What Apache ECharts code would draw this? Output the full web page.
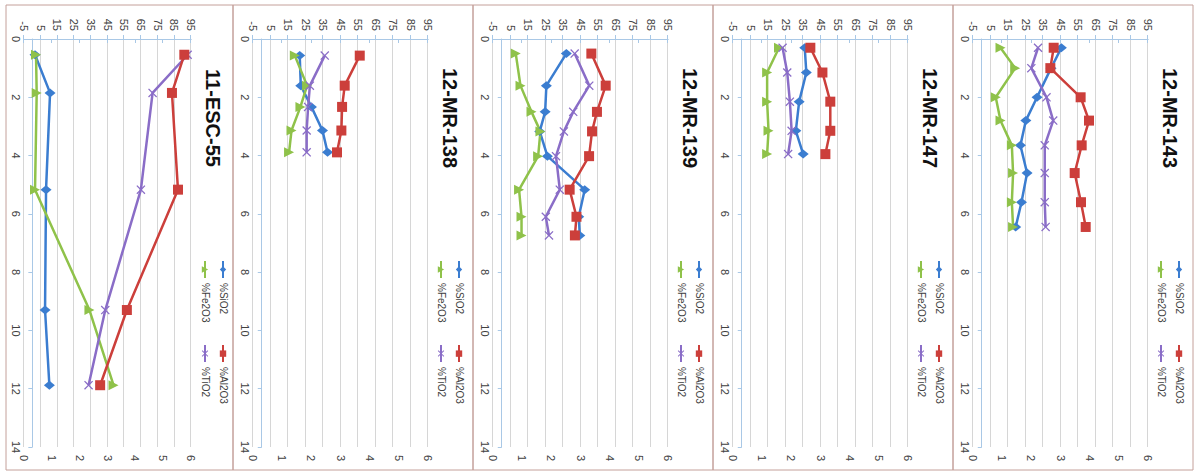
<!DOCTYPE html>
<html><head><meta charset="utf-8">
<script src="https://cdn.jsdelivr.net/npm/echarts@6/dist/echarts.min.js"></script>
<style>
html,body{margin:0;padding:0;background:#fff;overflow:hidden;width:1199px;height:473px}
#wrap{position:absolute;left:0;top:0;width:473px;height:1199px;transform-origin:0 0;transform:translateX(1199px) rotate(90deg);}
</style></head><body><div id="wrap"></div>
<script>
// ---- data ----
const seriesNames = ['%SiO2', '%Al2O3', '%Fe2O3', '%TiO2'];
const panelTitles = ['12-MR-143', '12-MR-147', '12-MR-139', '12-MR-138', '11-ESC-55'];

const mr143Depth = [0.3, 1.0, 2.0, 2.8, 3.65, 4.6, 5.6, 6.45];
const mr143SiO2 = [45.5, 39.6, 31.6, 25.2, 22.1, 25.9, 22.7, 19.4];
const mr143Al2O3 = [41.1, 39.2, 56.5, 61.3, 57.1, 53.1, 56.7, 59.4];
const mr143Fe2O3 = [10.7, 19.1, 8.0, 10.7, 17.2, 17.9, 17.2, 17.9];
const mr143TiO2 = [2.23, 2.0, 2.52, 2.75, 2.46, 2.46, 2.46, 2.49];

const mr147Depth = [0.3, 1.15, 2.15, 3.15, 3.95];
const mr147SiO2 = [36.0, 36.9, 32.8, 30.9, 35.1];
const mr147Al2O3 = [39.2, 46.1, 50.6, 50.6, 47.8];
const mr147Fe2O3 = [21.3, 14.5, 14.5, 15.3, 14.5];
const mr147TiO2 = [1.70, 1.86, 1.95, 2.01, 1.89];

const mr139Depth = [0.5, 1.6, 2.5, 3.17, 4.02, 5.17, 6.1, 6.74];
const mr139SiO2 = [36.9, 25.5, 24.8, 21.7, 26.1, 47.4, 44.0, 44.6];
const mr139Al2O3 = [51.2, 59.4, 54.4, 51.6, 49.9, 38.8, 42.7, 41.8];
const mr139Fe2O3 = [8.0, 10.7, 17.0, 22.1, 20.8, 9.9, 11.3, 11.3];
const mr139TiO2 = [2.80, 3.30, 2.75, 2.43, 2.16, 2.29, 1.81, 1.92];

const mr138Depth = [0.57, 1.6, 2.33, 3.14, 3.89];
const mr138SiO2 = [21.7, 22.3, 28.4, 34.7, 37.6];
const mr138Al2O3 = [56.0, 47.4, 45.9, 45.5, 43.0];
const mr138Fe2O3 = [18.9, 25.9, 22.1, 17.0, 15.6];
const mr138TiO2 = [2.46, 1.95, 1.89, 1.84, 1.84];

const esc55Depth = [0.54, 1.85, 5.17, 9.3, 11.88];
const esc55SiO2 = [1.6, 10.6, 8.2, 7.6, 10.2];
const esc55Al2O3 = [91.0, 83.6, 87.2, 56.6, 40.6];
const esc55Fe2O3 = [2.2, 2.6, 1.6, 34.2, 48.6];
const esc55TiO2 = [5.88, 4.62, 4.20, 2.92, 2.32];

const panelData = [
  [mr143Depth, mr143SiO2, mr143Al2O3, mr143Fe2O3, mr143TiO2],
  [mr147Depth, mr147SiO2, mr147Al2O3, mr147Fe2O3, mr147TiO2],
  [mr139Depth, mr139SiO2, mr139Al2O3, mr139Fe2O3, mr139TiO2],
  [mr138Depth, mr138SiO2, mr138Al2O3, mr138Fe2O3, mr138TiO2],
  [esc55Depth, esc55SiO2, esc55Al2O3, esc55Fe2O3, esc55TiO2]
];

// ---- layout (unrotated coordinates) ----
const layout = [
  {pTop: 6,   pBot: 246,  gTop: 51,   gH: 175, titleY: 29,  l1: 21,  l2: 39},
  {pTop: 246, pBot: 486,  gTop: 291,  gH: 175, titleY: 269, l1: 261, l2: 279},
  {pTop: 486, pBot: 726,  gTop: 531,  gH: 175, titleY: 509, l1: 501, l2: 519},
  {pTop: 726, pBot: 966,  gTop: 771,  gH: 175, titleY: 749, l1: 741, l2: 759},
  {pTop: 966, pBot: 1193, gTop: 1008, gH: 167, titleY: 986, l1: 977, l2: 995}
];

const colors = ['#3b7dd0', '#cc3f3b', '#8fc24a', '#8a6dc7'];
const symbols = ['diamond', 'rect', 'triangle',
  'path://M1,0L5,4L9,0L10,1L6,5L10,9L9,10L5,6L1,10L0,9L4,5L0,1Z'];
const symSizes = [[9, 11], 10, 10, 9];
const FONT = 'Liberation Sans, Arial, sans-serif';
const axisBlue = '#a9c8e6';
const labelColor = '#404040';

const grid = [], xAxis = [], yAxis = [], series = [], legend = [], graphic = [];

layout.forEach((L, p) => {
  grid.push({left: 39, width: 408, top: L.gTop, height: L.gH});
  xAxis.push({
    type: 'value', gridIndex: p, min: 0, max: 14, interval: 2, position: 'bottom',
    axisLine: {show: false, onZero: false}, axisTick: {show: false}, splitLine: {show: false},
    axisLabel: {fontSize: 11, color: labelColor, fontFamily: FONT, margin: 3}
  });
  xAxis.push({
    type: 'value', gridIndex: p, min: 0, max: 14, interval: 2, position: 'bottom',
    axisLine: {show: true, onZero: true, onZeroAxisIndex: 2 * p, lineStyle: {color: axisBlue, width: 1}},
    axisTick: {show: true, length: 4, lineStyle: {color: axisBlue}},
    axisLabel: {show: false}, splitLine: {show: false}
  });
  yAxis.push({
    type: 'value', gridIndex: p, min: -5, max: 95, interval: 10, position: 'left',
    axisLine: {show: true, lineStyle: {color: axisBlue}},
    axisTick: {show: true, length: 4, lineStyle: {color: axisBlue}},
    axisLabel: {fontSize: 11, color: labelColor, fontFamily: FONT, margin: 8},
    splitLine: {show: true, lineStyle: {color: '#d6d6d6', width: 1}}
  });
  yAxis.push({
    type: 'value', gridIndex: p, min: 0, max: 6, interval: 1, position: 'right',
    axisLine: {show: true, lineStyle: {color: axisBlue}},
    axisTick: {show: true, length: 4, lineStyle: {color: axisBlue}},
    axisLabel: {fontSize: 11, color: labelColor, fontFamily: FONT, margin: 8},
    splitLine: {show: false}
  });
  const d = panelData[p];
  seriesNames.forEach((nm, s) => {
    series.push({
      type: 'line', name: nm, xAxisIndex: 2 * p, yAxisIndex: s === 3 ? 2 * p + 1 : 2 * p,
      data: d[0].map((dep, i) => [dep, d[s + 1][i]]),
      symbol: symbols[s], symbolSize: symSizes[s], showSymbol: true,
      lineStyle: {color: colors[s], width: 2.5},
      itemStyle: {color: colors[s]},
      z: s === 1 ? 3 : 2, animation: false, silent: true
    });
  });
  const legCommon = {
    orient: 'horizontal', left: 260, padding: 0, itemWidth: 17, itemHeight: 8,
    textStyle: {fontSize: 10, color: labelColor, fontFamily: FONT},
    selectedMode: false
  };
  legend.push(Object.assign({}, legCommon, {top: L.l1 - 6, itemGap: 30, data: ['%SiO2', '%Al2O3']}));
  legend.push(Object.assign({}, legCommon, {top: L.l2 - 6, itemGap: 21.5, data: ['%Fe2O3', '%TiO2']}));
  graphic.push({
    type: 'text', x: 118, y: L.titleY, silent: true,
    style: {text: panelTitles[p], font: 'bold 20px ' + FONT, fill: '#111',
            textAlign: 'center', textVerticalAlign: 'middle'}
  });
  graphic.push({
    type: 'rect', silent: true, z: -1,
    shape: {x: 5, y: L.pTop, width: 465, height: L.pBot - L.pTop},
    style: {fill: 'none', stroke: '#c4a09a', lineWidth: 1}
  });
});

const chart = echarts.init(document.getElementById('wrap'), null, {renderer: 'svg', width: 473, height: 1199});
chart.setOption({animation: false, grid, xAxis, yAxis, series, legend, graphic});
</script></body></html>
